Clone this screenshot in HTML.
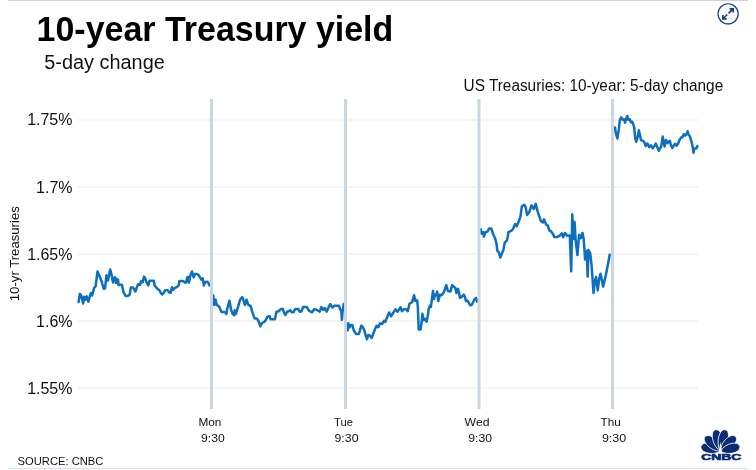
<!DOCTYPE html>
<html><head><meta charset="utf-8"><title>10-year Treasury yield</title><style>
html,body{margin:0;padding:0;background:#fff;width:756px;height:470px;overflow:hidden}
svg{display:block;will-change:transform}
text{font-family:"Liberation Sans",Arial,sans-serif}
</style></head><body>
<svg width="756" height="470" viewBox="0 0 756 470">
<rect x="8" y="0" width="740" height="1" fill="#c8d3dd"/>
<rect x="8" y="468" width="740" height="1" fill="#d5e0e3"/>
<text x="36.6" y="41.3" font-size="35.5" font-weight="bold" fill="#000" textLength="356.7" lengthAdjust="spacingAndGlyphs">10-year Treasury yield</text>
<text x="44.3" y="69" font-size="19.5" fill="#111" textLength="120.5" lengthAdjust="spacingAndGlyphs">5-day change</text>
<text x="463.6" y="90.9" font-size="15.8" fill="#111" textLength="259.6" lengthAdjust="spacingAndGlyphs">US Treasuries: 10-year: 5-day change</text>
<g fill="#e9e9e9">
<rect x="78" y="119.5" width="620" height="1"/>
<rect x="78" y="186.5" width="620" height="1"/>
<rect x="78" y="253.5" width="620" height="1"/>
<rect x="78" y="320.5" width="620" height="1"/>
<rect x="78" y="387.5" width="620" height="1"/>
</g>
<path d="M78.6,302.1 L79.8,294 L81.2,295.4 L83.1,303.5 L84.1,296.8 L85.5,299.7 L86.7,296.4 L88.4,301.6 L90.8,293 L92.2,295.4 L94.1,287.8 L95.6,286.3 L97.5,271.5 L100.4,278.2 L101.8,282 L103.7,288.7 L105.1,288.2 L106.4,275.3 L108,280.6 L110.2,269.6 L111.7,275.3 L113,282.5 L113.8,278.3 L115.1,277.4 L116,283 L116.8,279.1 L118.1,279.6 L118.5,285.1 L119.8,284.7 L121.9,284.7 L123.6,292.3 L125.7,296.1 L127.4,296.1 L129.6,294.9 L130.8,287.6 L133,287.6 L134.2,289.3 L135.5,291.5 L136.8,287.2 L138.1,284.2 L140.2,284.7 L141,281.3 L142.7,282.1 L144,276.6 L145.3,278.3 L146.6,282.5 L148.3,285.5 L149.5,280.8 L153.8,280.8 L154.6,285.5 L157.1,288.5 L159.3,290.2 L161,293.2 L162.2,294.5 L163.5,293.2 L165.2,290.2 L167.8,290.2 L169,292.3 L170.7,292.8 L172,287.2 L173.3,289.8 L174.6,288.1 L177.1,286.8 L178.8,285.1 L179.3,281.3 L180.5,280.9 L183.1,280.9 L184.8,282.6 L186.1,282.6 L187.3,277.4 L188.2,277 L189,282.6 L190.3,275.7 L192,271.5 L193.7,277.4 L195,274 L197.1,274 L198.8,275.3 L200.5,278.3 L201.4,279.6 L202.7,278.3 L203.9,285.5 L205.2,282.1 L207.3,281.7 L208.2,282.6 L209.5,285.5 M213.3,295.4 L214,305 L215.6,299.7 L216.7,305 L218.8,306.1 L219.9,308.2 L221.5,311.9 L223.6,311.9 L225.2,312.4 L226.3,314 L227.3,308.7 L229.5,300.7 L231.1,309.8 L232.7,314 L234.3,315.1 L234.8,310.3 L235.9,314 L238,307.1 L240.1,299.7 L242.2,297 L243.3,299.7 L244.9,305 L246.5,299.7 L248.1,304.5 L250.7,306.1 L252.3,311.9 L254.5,318.3 L257.1,318.8 L258.7,321.5 L260.3,326.3 L262.1,323 L264.3,321.9 L265.9,319.8 L267.4,316.6 L269.6,316.1 L270.6,319.3 L274.9,319.3 L276.5,311.8 L278.6,311.3 L280.7,309.1 L282.9,309.1 L283.9,312.3 L285.5,315 L287.1,311.8 L288.7,311.3 L290.3,310.2 L291.9,312.3 L293.5,312.3 L295.1,309.1 L298.3,309.1 L299.9,311.8 L301.5,311.3 L303.1,307 L306.8,307 L308.9,310.7 L312.1,312.3 L314.3,309.1 L316.4,309.7 L319,311.3 L319.7,311.6 L321.4,307 L323.2,309.9 L324.9,308.1 L326.7,311.6 L328.5,307.5 L330.2,304 L332.5,307.5 L334.3,305.8 L339,305.8 L340.1,309.3 L341.3,311.1 L341.9,319.8 L342.5,312.2 L343.7,304 M347.7,330.4 L348.3,323.3 L349.5,327.4 L350.7,325.1 L352.4,325.1 L353.6,329.8 L355.9,333.9 L358.9,333.9 L360,330.4 L361.2,325.7 L362.4,326.3 L364.1,329.8 L365.9,336.2 L367,339.1 L368.2,335 L370,335.6 L371.7,338 L373.8,332.3 L376.4,325.9 L378.3,327.1 L380.2,323.3 L382.1,324 L384,320.8 L385.3,322 L387.2,316.9 L389.2,312.5 L391.1,316.3 L393,313.1 L395.5,309.3 L397.5,311.8 L398.7,309.9 L400.6,307.3 L401.9,311.2 L403.8,309.3 L406.4,309.3 L407.7,311.2 L409.6,303.5 L412.1,302.2 L414.1,295.2 L415.3,301 L417.2,300.3 L417.9,308 L418.7,329.4 L420.6,329.4 L421.7,322 L422.4,313.7 L423.6,320.1 L425.5,318.8 L426.6,321.8 L427.7,316.5 L428.7,309 L429.8,305.9 L430.9,306.9 L431.9,299.5 L433,291 L434,298.9 L435.1,294.7 L436.2,295.2 L437.2,291.5 L438.3,301.1 L439.9,294.7 L441.5,295.2 L442.6,294.1 L444.1,291.5 L446.3,285.1 L447.9,291 L450.5,291.5 L452.1,285.1 L453.7,286.7 L455.3,287.8 L456.4,293.1 L458,288.8 L460.1,297.9 L461.7,296.8 L463.8,294.7 L464.9,296.8 L466,301.1 L467.6,300.5 L470.2,305.3 L471.8,304.8 L474.5,299.5 L476.1,297.9 L477.1,301.6 M480.7,229.2 L481.7,233.7 L483.2,232.2 L483.9,236.7 L485.4,232.2 L487.6,231.5 L489.1,228.5 L491.4,228.5 L492.9,233.7 L495.1,238.2 L496.6,244.1 L497.3,250.8 L498.8,252.3 L500.3,257.5 L501.8,253.8 L503.3,250.1 L504.8,242.6 L507,240.4 L508.5,232.2 L511.5,230.7 L512.9,229.2 L515.2,224 L516.7,226.3 L518.9,221 L520.4,216.6 L521.9,206.2 L524.1,204.7 L525.6,206.9 L527.1,215.1 L529.3,212.1 L531.5,205.4 L533.8,209 L535.7,203.9 L537.7,211.6 L539.6,217.3 L540.9,221.2 L542.8,222.5 L544,219.3 L546,224.4 L547.9,225.7 L549.2,230.1 L551.1,231.4 L553,234 L554.3,237.1 L556.8,237.1 L559.4,235.9 L561.9,233.3 L563.2,237.1 L565,233 L567.2,235.6 L569.8,235.6 L571.2,271.3 L572.3,214.3 L573.5,239 L574.6,222 L575.7,240.7 L577.4,255.1 L579.1,234.7 L580.8,238.1 L582.5,233 L583.7,239 L585.1,259.4 L586.8,250.9 L587.6,276.4 L588.5,250 L590.2,253.4 L591.6,265.5 L593.5,293 L594.8,280.9 L596.1,277 L597.7,290.4 L599.3,278.3 L600.5,273.8 L601.8,279.6 L603.1,286.6 L605.7,275.8 L608.2,263 L609.7,254.7 M615,127.5 L615.7,132.7 L617.4,138.5 L618.9,128.9 L619.8,120.3 L621.1,117.4 L622.7,119.8 L624.1,119.3 L625.1,122.7 L626,119.3 L627.2,116 L628.4,119.8 L629.9,119.3 L630.8,122.2 L632.2,121.7 L633.2,124.1 L634.2,127.5 L635.1,137.5 L636.1,141.8 L637.5,137.5 L638.9,130.3 L641,140.1 L642.8,140.7 L644.5,142.5 L645.7,146 L647.5,143.6 L649.2,147.2 L651,145.4 L652.7,148.3 L654.5,146 L655.7,143.6 L657.4,147.2 L658.8,150.9 L660.3,148 L661.2,146.6 L662.7,136.6 L663.6,141.8 L664.6,146.6 L666,139.9 L667.5,143.3 L668.9,141.3 L669.8,140.9 L670.8,144.7 L672.2,148 L673.7,145.7 L675.1,143.7 L676.6,145.7 L678,143.7 L679.4,140.4 L680.9,137.5 L682.3,137.5 L683.7,134.2 L685.2,135.6 L686.6,134.2 L687.6,131.3 L688.5,134.6 L690,136.6 L691.4,141.3 L692.8,147.6 L693.5,152.8 L694.3,148.5 L696.2,148.5 L697.4,146.1" fill="none" stroke="#0c6fc0" stroke-width="2.5" stroke-linejoin="round" stroke-linecap="round"/>
<g fill="#ccd6e1">
<rect x="210" y="99" width="3" height="310"/>
<rect x="344" y="99" width="3" height="310"/>
<rect x="477.5" y="99" width="3" height="310"/>
<rect x="611" y="99" width="3" height="310"/>
</g>
<g font-size="16" fill="#111" text-anchor="end">
<text x="72.5" y="124.5">1.75%</text>
<text x="72.5" y="192.5">1.7%</text>
<text x="72.5" y="259.5">1.65%</text>
<text x="72.5" y="326.5">1.6%</text>
<text x="72.5" y="393.5">1.55%</text>
</g>
<text transform="translate(18.8,301.2) rotate(-90)" font-size="12" fill="#111" textLength="95" lengthAdjust="spacingAndGlyphs">10-yr Treasuries</text>
<g font-size="11" fill="#111">
<text x="198.4" y="426" textLength="23.0" lengthAdjust="spacingAndGlyphs">Mon</text>
<text x="201.0" y="441.9" textLength="23.7" lengthAdjust="spacingAndGlyphs">9:30</text>
<text x="334.1" y="426" textLength="18.9" lengthAdjust="spacingAndGlyphs">Tue</text>
<text x="334.5" y="441.9" textLength="24.0" lengthAdjust="spacingAndGlyphs">9:30</text>
<text x="464.6" y="426" textLength="24.9" lengthAdjust="spacingAndGlyphs">Wed</text>
<text x="468.3" y="441.9" textLength="23.8" lengthAdjust="spacingAndGlyphs">9:30</text>
<text x="600.6" y="426" textLength="20.3" lengthAdjust="spacingAndGlyphs">Thu</text>
<text x="601.9" y="441.9" textLength="24.4" lengthAdjust="spacingAndGlyphs">9:30</text>
</g>
<text x="17.6" y="465" font-size="11" fill="#111" textLength="85.8" lengthAdjust="spacingAndGlyphs">SOURCE: CNBC</text>
<g stroke="#163f88" fill="none">
<circle cx="728.1" cy="13.85" r="10.1" stroke-width="1.2"/>
<path d="M728.6,13.3 L732.6,9.3 M729.6,8.8 H733.2 V12.4 M727.3,14.5 L723.3,18.5 M722.9,14.9 V18.9 H726.6" stroke-width="1.7"/>
</g>
<g fill="#0b2b74" stroke="#fff" stroke-width="0.8">
<path transform="translate(720.4,451.2) rotate(-76)" d="M0,0 C-7,-7 -6,-20 0,-20 C6,-20 7,-7 0,0Z"/>
<path transform="translate(720.4,451.2) rotate(-46)" d="M0,0 C-7,-7 -6,-21 0,-21 C6,-21 7,-7 0,0Z"/>
<path transform="translate(720.4,451.2) rotate(-13)" d="M0,0 C-7,-7 -6,-22 0,-22 C6,-22 7,-7 0,0Z"/>
<path transform="translate(720.4,451.2) rotate(13)" d="M0,0 C-7,-7 -6,-22 0,-22 C6,-22 7,-7 0,0Z"/>
<path transform="translate(720.4,451.2) rotate(46)" d="M0,0 C-7,-7 -6,-21 0,-21 C6,-21 7,-7 0,0Z"/>
<path transform="translate(720.4,451.2) rotate(76)" d="M0,0 C-7,-7 -6,-20 0,-20 C6,-20 7,-7 0,0Z"/>
</g>
<path d="M720.4,441.5 L718.9,451.8 L721.9,451.8Z" fill="#fff"/>
<text x="701.2" y="459.8" font-size="8.4" font-weight="bold" fill="#0b2b74" stroke="#0b2b74" stroke-width="0.6" textLength="40.2" lengthAdjust="spacingAndGlyphs">CNBC</text>
</svg>
</body></html>
